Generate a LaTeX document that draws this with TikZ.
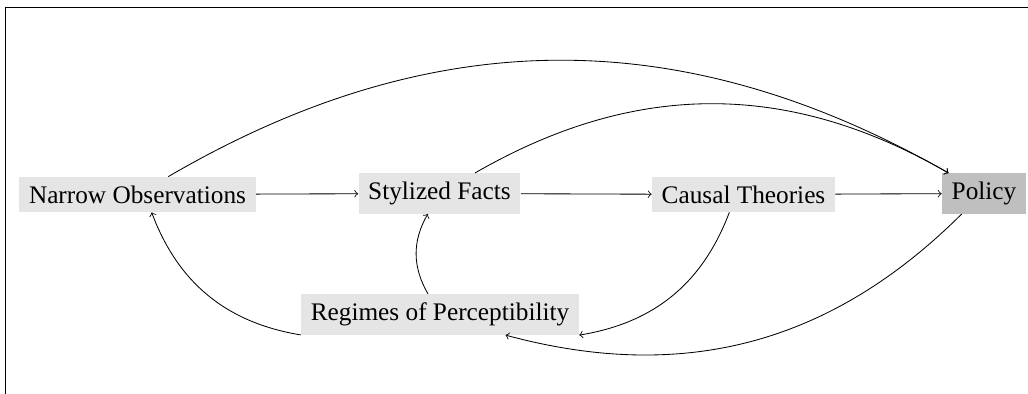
\documentclass[tikz,border=0pt]{standalone}
\usepackage{fontspec}
\setmainfont{Liberation Serif}
\begin{document}
\begin{tikzpicture}[x=0.4785pt,y=0.4785pt,
  box/.style={fill=black!10, inner xsep=4.6pt, inner ysep=4.1pt, font=\fontsize{12.1}{14.5}\selectfont},
  pbox/.style={box, fill=black!25},
  conn/.style={->, bend left=30}]
\useasboundingbox (0,0) rectangle (1028,394);
\draw (5.7,0) -- (5.7,386.7) -- (1028,386.7);
\node[box] (no) at (137.5,199.5) {Narrow Observations};
\node[box] (sf) at (439.5,200.5) {Stylized Facts};
\node[box] (ct) at (743.5,199.5) {Causal Theories};
\node[pbox] (po) at (984,200.5) {Policy};
\node[box] (rp) at (440,79.5) {Regimes of Perceptibility};
\draw[->] (no) -- (sf);
\draw[->] (sf) -- (ct);
\draw[->] (ct) -- (po);
\draw[conn] (no) to (po);
\draw[conn] (sf) to (po);
\draw[conn] (ct) to (rp);
\draw[conn] (po) to (rp);
\draw[conn] (rp) to (no);
\draw[conn] (rp) to (sf);
\end{tikzpicture}
\end{document}
